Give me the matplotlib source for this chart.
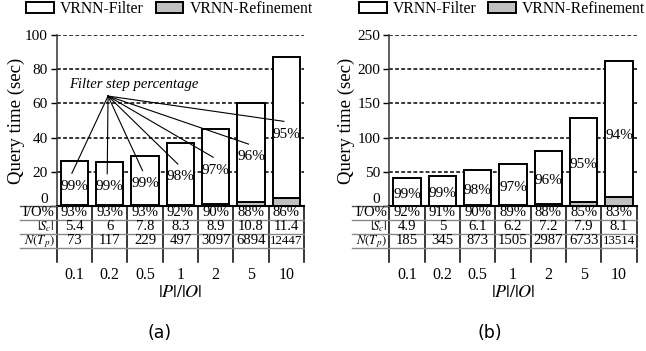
import matplotlib
matplotlib.use("Agg")
import matplotlib.pyplot as plt
import numpy as np

plt.rcParams['font.family'] = ['Liberation Serif', 'DejaVu Serif']
plt.rcParams['mathtext.fontset'] = 'stix'

# data
ratios = ['0.1', '0.2', '0.5', '1', '2', '5', '10']

filter_a = [26.0, 25.4, 29.1, 36.3, 43.6, 58.0, 82.6]
refine_a = [0.3, 0.3, 0.3, 0.7, 1.4, 2.4, 4.4]
pct_a = ['99%', '99%', '99%', '98%', '97%', '96%', '95%']
io_a = ['93%', '93%', '93%', '92%', '90%', '88%', '86%']
sc_a = ['5.4', '6', '7.8', '8.3', '8.9', '10.8', '11.4']
ntp_a = ['73', '117', '229', '497', '3097', '6894', '12447']

filter_b = [40.6, 44.1, 51.0, 59.2, 77.5, 121.6, 199.8]
refine_b = [0.4, 0.4, 1.0, 1.8, 3.2, 6.4, 12.8]
pct_b = ['99%', '99%', '98%', '97%', '96%', '95%', '94%']
io_b = ['92%', '91%', '90%', '89%', '88%', '85%', '83%']
sc_b = ['4.9', '5', '6.1', '6.2', '7.2', '7.9', '8.1']
ntp_b = ['185', '345', '873', '1505', '2987', '6733', '13514']

row_names = ['I/O%', r'$|S_c|$', r'$N(T_p)$']

W, H = 646, 351
fig = plt.figure(figsize=(W / 100, H / 100), dpi=100)


def draw_panel(left_px, right_px, filt, refine, pct, rows, ymax, ystep,
               ylab_x, tag, tag_x, annotate=False):
    wid = (right_px - left_px) / W
    ax = fig.add_axes([left_px / W, (H - 206) / H, wid, 171 / H])
    tax = fig.add_axes([left_px / W, (H - 262) / H, wid, 56 / H])
    x = np.arange(len(ratios))

    ax.bar(x, refine, width=0.78, color='#c0c0c0', edgecolor='black',
           linewidth=1.4, zorder=3, label='VRNN-Refinement')
    ax.bar(x, filt, bottom=refine, width=0.78, color='white',
           edgecolor='black', linewidth=1.4, zorder=3, label='VRNN-Filter')
    ax.set_xlim(-0.5, 6.5)
    ax.set_ylim(0, ymax)
    ax.set_yticks(np.arange(0, ymax + 1, ystep))
    ax.tick_params(axis='y', labelsize=11, length=4, width=1, direction='out',
                   pad=2.5)
    ax.tick_params(axis='x', length=0, labelbottom=False)
    ax.yaxis.grid(True, color='black', linestyle=(0, (2.5, 1.5)), linewidth=1.1)
    ax.set_axisbelow(True)
    for s in ['top', 'right']:
        ax.spines[s].set_visible(False)
    ax.spines['left'].set_linewidth(1.1)
    ax.spines['left'].set_color('#333333')
    ax.spines['bottom'].set_linewidth(1.5)
    ax.yaxis.get_ticklabels()[0].set_va('bottom')
    ax.set_ylabel('Query time (sec)', fontsize=13.5)
    ax.yaxis.set_label_coords(ylab_x, 0.5)

    # percentage labels inside bars
    tot = np.array(filt) + np.array(refine)
    ly = tot / 2 - 0.015 * ymax
    for i in x:
        ax.text(i, ly[i], pct[i], ha='center', va='center', fontsize=11,
                zorder=5)

    if annotate:
        ax.text(1.69, 70.8, 'Filter step percentage', ha='center',
                va='center', fontsize=10.5, style='italic', zorder=5)
        for i in x:
            ax.plot([0.953, i - 0.07], [64.3, ly[i] + 7.5], color='black',
                    linewidth=0.8, zorder=6)

    # legend
    h, l = ax.get_legend_handles_labels()
    ax.legend(h[::-1], l[::-1], loc='center right',
              bbox_to_anchor=(1.035, 1.15),
              ncol=2, frameon=False, fontsize=11.3, handlelength=1.75,
              handleheight=0.7, handletextpad=0.4, columnspacing=0.75,
              borderaxespad=0, borderpad=0)

    # table below the bars
    tax.set_xlim(-0.5, 6.5)
    tax.set_ylim(4, 0)
    tax.axis('off')
    for k in range(8):
        tax.plot([k - 0.5, k - 0.5], [0, 4], color='black', linewidth=1.1,
                 clip_on=False)
    for r in [1, 2, 3]:
        tax.plot([-1.55, 6.5], [r, r], color='#888888', linewidth=1.0,
                 clip_on=False)
    tax.plot([-1.55, -0.5], [0, 0], color='#555555', linewidth=1.0,
             clip_on=False)
    for r, vals in enumerate(rows):
        tax.text(-0.56, r + (0.5 if r == 0 else 0.45 if r == 1 else 0.55),
                 row_names[r], ha='right', va='center',
                 fontsize=10.5 if r == 0 else 9.2)
        for i, v in enumerate(vals):
            tax.text(i, r + 0.5, v, ha='center', va='center',
                     fontsize=9.3 if len(v) >= 5 else 10.6)
    for i, t in enumerate(ratios):
        tax.text(i, 4.95, t, ha='center', va='center', fontsize=11.5)
    tax.text(3, 6.2, r'$|P|/|O|$', ha='center', va='center', fontsize=13)
    fig.text(tag_x / W, (H - 333) / H, tag, ha='center', va='center',
             fontsize=12.5, family='DejaVu Sans')
    return ax


draw_panel(56.7, 304, filter_a, refine_a, pct_a, [io_a, sc_a, ntp_a],
           100, 20, -0.128, '(a)', 160, annotate=True)
draw_panel(389.3, 636.7, filter_b, refine_b, pct_b, [io_b, sc_b, ntp_b],
           250, 50, -0.14, '(b)', 490)

fig.savefig('out.png', dpi=100)
